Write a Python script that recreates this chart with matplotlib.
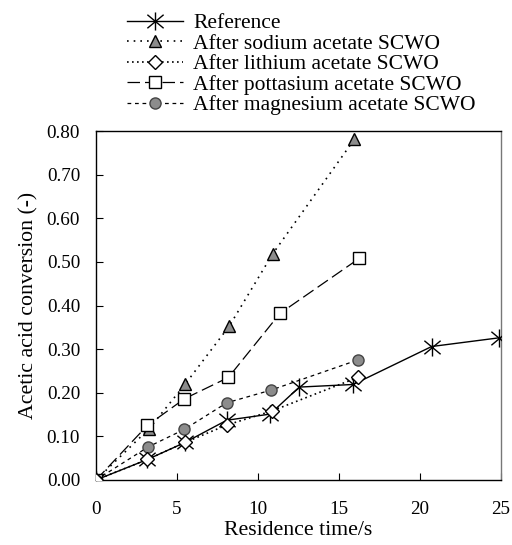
import matplotlib
matplotlib.use("Agg")
import matplotlib.pyplot as plt
from matplotlib.path import Path

plt.rcParams['font.family'] = ['Liberation Serif', 'DejaVu Serif']

ref_x = [0, 3.17, 5.49, 8.07, 10.74, 12.55, 15.88, 20.72, 24.9]
ref_y = [0, 0.047, 0.086, 0.137, 0.151, 0.213, 0.219, 0.306, 0.326]

na_x = [0, 3.29, 5.49, 8.23, 10.9, 15.95]
na_y = [0, 0.118, 0.219, 0.353, 0.518, 0.781]

li_x = [0, 3.17, 5.49, 8.07, 10.84, 16.15]
li_y = [0, 0.047, 0.086, 0.126, 0.158, 0.235]

k_x = [0, 3.17, 5.45, 8.17, 11.36, 16.25]
k_y = [0, 0.125, 0.186, 0.235, 0.382, 0.508]

mg_x = [0, 3.23, 5.45, 8.07, 10.8, 16.15]
mg_y = [0, 0.076, 0.116, 0.177, 0.206, 0.275]

labels = ["Reference", "After sodium acetate SCWO", "After lithium acetate SCWO",
          "After pottasium acetate SCWO", "After magnesium acetate SCWO"]

star = Path([(0, -1), (0, 1), (-0.9, -0.75), (0.9, 0.75), (-0.9, 0.75), (0.9, -0.75)],
            [Path.MOVETO, Path.LINETO, Path.MOVETO, Path.LINETO, Path.MOVETO, Path.LINETO])

fig = plt.figure(figsize=(5.12, 5.45), dpi=100)
ax = fig.add_axes([96/512, 1-480/545, 405/512, 349/545])

gray = '#8c8c8c'
ax.plot(ref_x, ref_y, color='black', lw=1.0, ls='-', marker=star, ms=13, mew=1.0,
        mec='black', label=labels[0], zorder=3)
ax.plot(na_x, na_y, color='black', lw=1.2, ls=(0, (1, 3)), marker='^', ms=9, mfc=gray,
        mec='black', mew=1.0, label=labels[1], zorder=3)
ax.plot(li_x, li_y, color='black', lw=1.2, ls=(0, (1, 2)), marker='D', ms=7, mfc='white',
        mec='black', mew=1.0, label=labels[2], zorder=4)
ax.plot(k_x, k_y, color='black', lw=0.9, ls=(0, (10, 4)), marker='s', ms=8, mfc='white',
        mec='black', mew=1.0, label=labels[3], zorder=3)
ax.plot(mg_x, mg_y, color='black', lw=0.9, ls=(0, (3, 3)), marker='o', ms=8, mfc=gray,
        mec='#444444', mew=1.0, label=labels[4], zorder=3)

ax.set_xlim(0, 25)
ax.set_ylim(0, 0.8)
ax.set_xticks([0, 5, 10, 15, 20, 25])
ax.set_yticks([0, 0.1, 0.2, 0.3, 0.4, 0.5, 0.6, 0.7, 0.8])
ax.set_yticklabels([f"{v:.2f}" for v in ax.get_yticks()])
ax.tick_params(direction='in', length=5, labelsize=13.8, top=False, right=False)
ax.tick_params(axis='x', pad=15)
ax.tick_params(axis='y', pad=11.5)
for s in ax.spines.values():
    s.set_linewidth(1.0)
ax.spines['right'].set_color('#777777')

ax.set_xlabel("Residence time/s", fontsize=15.7, labelpad=2)
ax.set_ylabel("Acetic acid conversion (-)", fontsize=15.7, labelpad=6)

leg = fig.legend(loc='upper left', bbox_to_anchor=(127/512, 1-13/545), frameon=False,
                 fontsize=15.5, handlelength=2.6, handletextpad=0.47, labelspacing=0.02,
                 borderaxespad=0.0, borderpad=0.0)

fig.savefig("out.png", dpi=100)
